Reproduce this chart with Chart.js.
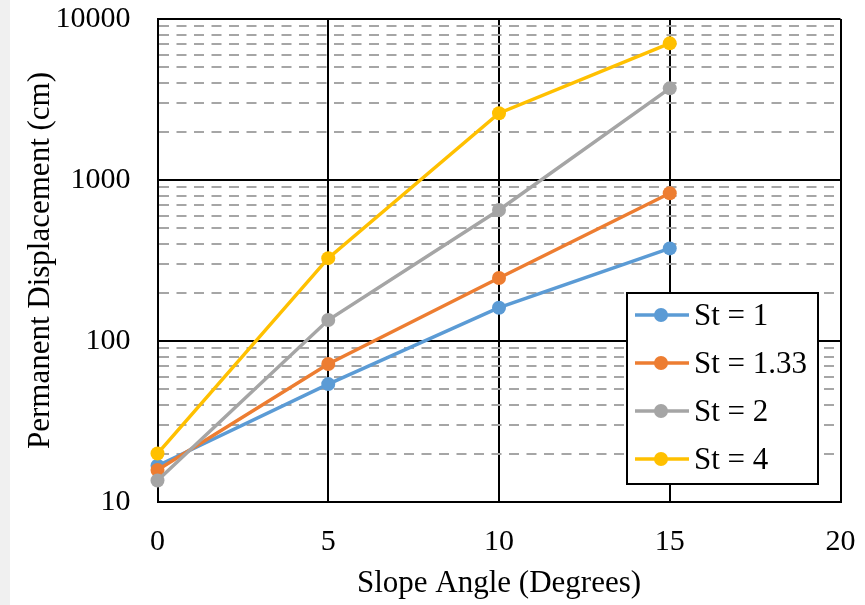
<!DOCTYPE html>
<html>
<head>
<meta charset="utf-8">
<title>Permanent Displacement vs Slope Angle</title>
<script src="https://cdn.jsdelivr.net/npm/chart.js@4.4.1/dist/chart.umd.min.js"></script>
<style>
  html, body { margin: 0; padding: 0; background: #f0f0f0; }
  #wrap { position: absolute; left: 10px; top: 0; width: 855px; height: 605px; background: #fff; }
</style>
</head>
<body>
<div id="wrap"><canvas id="dispChart" width="855" height="605"></canvas></div>
<script>
// slope angles (degrees) on the x axis
const slopeAngles = [0, 5, 10, 15];

// permanent displacement (cm) for each St value
const st1 = [16.8, 54, 161, 376];
const st133 = [15.8, 72, 246, 827];
const st2 = [13.6, 135, 651, 3710];
const st4 = [20, 327, 2600, 7060];

const seriesNames = ['St = 1', 'St = 1.33', 'St = 2', 'St = 4'];
const seriesColors = ['#5B9BD5', '#ED7D31', '#A5A5A5', '#FFC000'];

// log axis: decades get a label and a solid line, 2..9 get dashed lines
const decades = [10, 100, 1000, 10000];
const minorSteps = [2, 3, 4, 5, 6, 7, 8, 9];
const xTicks = [0, 5, 10, 15, 20];

const yTickValues = [];
decades.forEach(function (d, i) {
    yTickValues.push(d);
    if (i < decades.length - 1) {
        minorSteps.forEach(function (m) { yTickValues.push(d * m); });
    }
});

function isDecade(v) {
    return decades.indexOf(v) !== -1;
}

// keep the plot area where the layout padding puts it
function noScalePadding(scale) {
    scale.paddingTop = 0;
    scale.paddingBottom = 0;
    scale.paddingLeft = 0;
    scale.paddingRight = 0;
}

const FONT = 'Liberation Serif';

// Legend drawn inside the plot area, boxed, with line + dot markers
const boxLegend = {
    id: 'boxLegend',
    afterDatasetsDraw(chart) {
        const ctx = chart.ctx;
        const area = chart.chartArea;
        const w = 191, h = 191;
        const x = area.right - 22.5 - w;
        const y = area.bottom - 18 - h;
        ctx.save();
        ctx.fillStyle = '#fff';
        ctx.fillRect(x, y, w, h);
        ctx.strokeStyle = '#000';
        ctx.lineWidth = 2;
        ctx.strokeRect(x, y, w, h);
        ctx.font = '31px "' + FONT + '"';
        ctx.textBaseline = 'middle';
        chart.data.datasets.forEach(function (ds, i) {
            const cy = y + 22 + i * 48;
            ctx.strokeStyle = ds.borderColor;
            ctx.lineWidth = 3.5;
            ctx.beginPath();
            ctx.moveTo(x + 8, cy);
            ctx.lineTo(x + 62, cy);
            ctx.stroke();
            ctx.fillStyle = ds.borderColor;
            ctx.beginPath();
            ctx.arc(x + 34, cy, 7, 0, Math.PI * 2);
            ctx.fill();
            ctx.fillStyle = '#000';
            ctx.fillText(ds.label, x + 67, cy + 2);
        });
        ctx.restore();
    }
};

const allSeries = [st1, st133, st2, st4];

const datasets = allSeries.map(function (vals, i) {
    return {
        label: seriesNames[i],
        data: slopeAngles.map(function (a, j) { return { x: a, y: vals[j] }; }),
        borderColor: seriesColors[i],
        backgroundColor: seriesColors[i],
        borderWidth: 3.5,
        pointRadius: 7,
        pointHoverRadius: 7,
        pointBorderWidth: 0,
        tension: 0,
        clip: false,
        order: allSeries.length - i // later series on top
    };
});

new Chart(document.getElementById('dispChart').getContext('2d'), {
    type: 'line',
    data: { datasets: datasets },
    plugins: [boxLegend],
    options: {
        responsive: false,
        animation: false,
        layout: { padding: { top: 19, right: 24.5, left: 0, bottom: 0 } },
        plugins: {
            legend: { display: false },
            tooltip: { enabled: false }
        },
        scales: {
            x: {
                type: 'linear',
                min: 0,
                max: 20,
                afterBuildTicks: function (scale) {
                    scale.ticks = xTicks.map(function (v) { return { value: v }; });
                },
                afterFit: function (scale) {
                    scale.height = 103;
                    noScalePadding(scale);
                },
                grid: { color: '#000', lineWidth: 2, drawTicks: false },
                border: { color: '#000', width: 2 },
                ticks: {
                    color: '#000',
                    padding: 22,
                    font: { family: FONT, size: 30 }
                },
                title: {
                    display: true,
                    text: 'Slope Angle (Degrees)',
                    color: '#000',
                    padding: { top: 0, bottom: 3 },
                    font: { family: FONT, size: 31 }
                }
            },
            y: {
                type: 'logarithmic',
                min: 10,
                max: 10000,
                afterBuildTicks: function (scale) {
                    scale.ticks = yTickValues.map(function (v) { return { value: v }; });
                },
                afterFit: function (scale) {
                    scale.width = 147.5;
                    noScalePadding(scale);
                },
                grid: {
                    drawTicks: false,
                    lineWidth: 2,
                    color: function (c) {
                        return c.tick && isDecade(c.tick.value) ? '#000' : '#a6a6a6';
                    }
                },
                border: {
                    color: '#000',
                    width: 2,
                    dash: function (c) {
                        return c.tick && !isDecade(c.tick.value) ? [10, 7.5] : [];
                    }
                },
                ticks: {
                    color: '#000',
                    padding: 27,
                    autoSkip: false,
                    font: { family: FONT, size: 30 },
                    callback: function (v) { return isDecade(v) ? String(v) : ''; }
                },
                title: {
                    display: true,
                    text: 'Permanent Displacement (cm)',
                    color: '#000',
                    padding: { top: 12, bottom: 0 },
                    font: { family: FONT, size: 31 }
                }
            }
        }
    }
});
</script>
</body>
</html>
